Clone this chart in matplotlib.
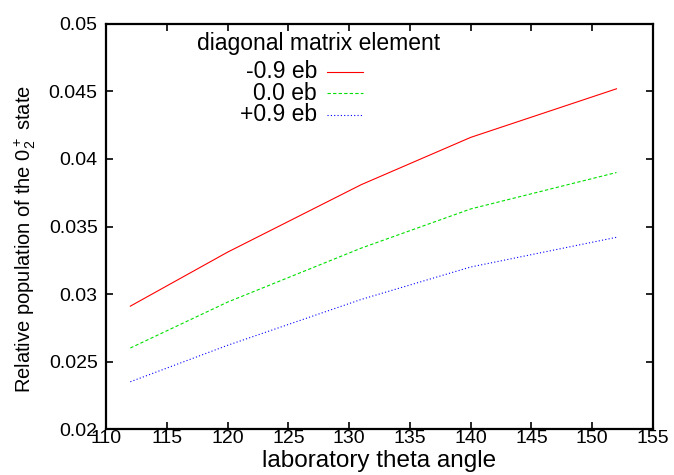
import matplotlib
matplotlib.use("Agg")
import matplotlib.pyplot as plt
from matplotlib.ticker import FuncFormatter, MultipleLocator

plt.rcParams["font.family"] = ["Liberation Sans", "DejaVu Sans"]
plt.rcParams["mathtext.fontset"] = "custom"
plt.rcParams["mathtext.rm"] = "Liberation Sans"
plt.rcParams["mathtext.it"] = "Liberation Sans:italic"

# laboratory theta angle (deg)
theta = [112, 120, 131, 140, 152]

# relative population of the 0_2+ state, per diagonal matrix element
pop_m09 = [0.0291, 0.0331, 0.0381, 0.0416, 0.0452]
pop_00 = [0.0260, 0.0294, 0.0334, 0.0363, 0.0390]
pop_p09 = [0.0235, 0.0262, 0.0296, 0.0320, 0.0342]

labels = ["-0.9 eb", "0.0 eb", "+0.9 eb"]
series = [pop_m09, pop_00, pop_p09]
colors = ["#ff0000", "#00e000", "#0000ff"]
styles = ["-", (0, (3, 2)), (0, (1, 2))]

TXT = 16.5

fig = plt.figure(figsize=(6.74, 4.75), dpi=100)
ax = fig.add_axes([0.1573, 0.0968, 0.8115, 0.8527])

for vals, c, ls in zip(series, colors, styles):
    ax.plot(theta, vals, color=c, linestyle=ls, linewidth=0.8)

ax.set_xlim(110, 155)
ax.set_ylim(0.02, 0.05)
ax.xaxis.set_major_locator(MultipleLocator(5))
ax.yaxis.set_major_locator(MultipleLocator(0.005))
ax.yaxis.set_major_formatter(FuncFormatter(lambda v, p: "%g" % round(v, 4)))

ax.tick_params(direction="in", top=True, right=True, length=5, width=1.2,
               labelsize=14)
ax.tick_params(axis="x", pad=1)
ax.tick_params(axis="y", pad=6)
for s in ax.spines.values():
    s.set_linewidth(1.6)

ax.set_xlabel("laboratory theta angle", fontsize=17.5, va="top")
ax.xaxis.set_label_coords(0.5, -0.053)
ax.set_ylabel("Relative population of the $0_2^+$ state", fontsize=14.5)
ax.yaxis.set_label_coords(-0.125, 0.47)

# gnuplot-style key
ax.text(0.3885, 0.951, "diagonal matrix element", transform=ax.transAxes,
        ha="center", va="center", fontsize=TXT)
key_y = [0.8815, 0.8296, 0.7753]
for y, lab, c, ls in zip(key_y, labels, colors, styles):
    ax.text(0.3857, y, lab, transform=ax.transAxes, ha="right", va="center",
            fontsize=TXT)
    ax.plot([0.404, 0.470], [y, y], transform=ax.transAxes, color=c,
            linestyle=ls, linewidth=0.8)

fig.savefig("out.png", dpi=100)
